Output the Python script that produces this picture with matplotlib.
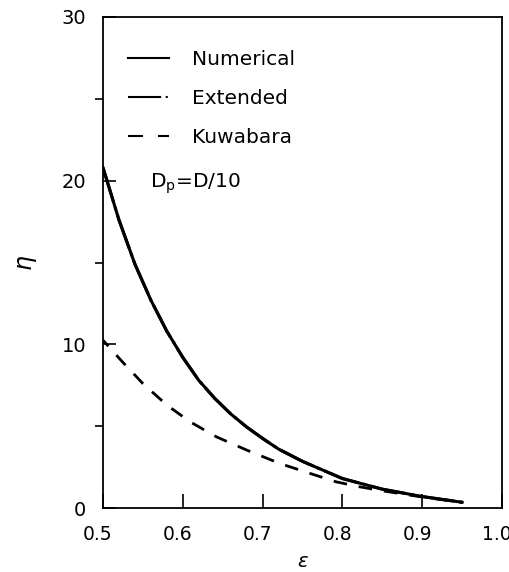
import numpy as np
import matplotlib.pyplot as plt
import matplotlib.transforms as mtransforms
from matplotlib.lines import Line2D
from matplotlib.ticker import MultipleLocator

# porosity vs. dimensionless drag, D_p = D/10
eps_num = [0.50, 0.52, 0.54, 0.56, 0.58, 0.60, 0.62, 0.64, 0.66, 0.68,
           0.70, 0.72, 0.75, 0.80, 0.85, 0.90, 0.95]
eta_num = [20.8, 17.6, 14.9, 12.7, 10.8, 9.2, 7.8, 6.7, 5.75, 4.95,
           4.25, 3.6, 2.85, 1.8, 1.15, 0.7, 0.35]

eps_ext = eps_num
eta_ext = eta_num

eps_kuw = [0.500, 0.523, 0.550, 0.580, 0.609, 0.642, 0.680, 0.721, 0.759,
           0.792, 0.821, 0.850, 0.900, 0.950]
eta_kuw = [10.25, 9.0, 7.6, 6.29, 5.27, 4.35, 3.54, 2.73, 2.12,
           1.6, 1.3, 1.05, 0.67, 0.35]

labels = ['Numerical', 'Extended', 'Kuwabara']

plt.rcParams['font.family'] = ['DejaVu Sans']
fig = plt.figure(figsize=(5.09, 5.72), dpi=100)
ax = fig.add_axes([103 / 509, 1 - 508 / 572, 399 / 509, 491 / 572])

ax.plot(eps_num, eta_num, color='black', lw=2.2)
ax.plot(eps_ext, eta_ext, color='black', lw=2.2, ls=(0, (12, 1.5, 1, 1.5)))
ax.plot(eps_kuw, eta_kuw, color='black', lw=2.0, ls=(2, (4.9, 4.3)))

ax.set_xlim(0.5, 1.0)
ax.set_ylim(0, 30)
ax.xaxis.set_major_locator(MultipleLocator(0.1))
ax.yaxis.set_major_locator(MultipleLocator(10))
ax.yaxis.set_minor_locator(MultipleLocator(5))
ax.tick_params(direction='in', labelsize=14, width=1.2)
ax.tick_params(axis='x', length=10, pad=12, labelsize=13.5)
ax.tick_params(axis='y', which='major', length=9, pad=12)
ax.tick_params(axis='y', which='minor', length=6, width=1.2)
for s in ax.spines.values():
    s.set_linewidth(1.3)

# x tick labels sit a little left of their ticks
shift = mtransforms.ScaledTranslation(-5 / 100, 0, fig.dpi_scale_trans)
for lab in ax.get_xticklabels():
    lab.set_transform(lab.get_transform() + shift)

ax.set_xlabel(r'$\varepsilon$', fontsize=14, va='center')
ax.set_ylabel(r'$\eta$', fontsize=17, va='center')
ax.xaxis.set_label_coords(0.5, -0.108)
ax.yaxis.set_label_coords(-0.19, 0.5)

handles = [
    Line2D([], [], color='black', lw=1.5),
    Line2D([], [], color='black', lw=1.5, ls=(0, (15.9, 2.2, 1, 2.2))),
    Line2D([], [], color='black', lw=1.5, ls=(0, (7.2, 7.2))),
]
ax.legend(handles, labels, loc='upper left', bbox_to_anchor=(0.043, 0.949),
          frameon=False, fontsize=14.5, handlelength=2.05, handletextpad=1.1,
          labelspacing=1.0, borderaxespad=0)
ax.text(0.117, 0.66, r'D$_\mathrm{p}$=D/10', transform=ax.transAxes,
        fontsize=14.5, va='center')

fig.savefig('out.png', dpi=100)
